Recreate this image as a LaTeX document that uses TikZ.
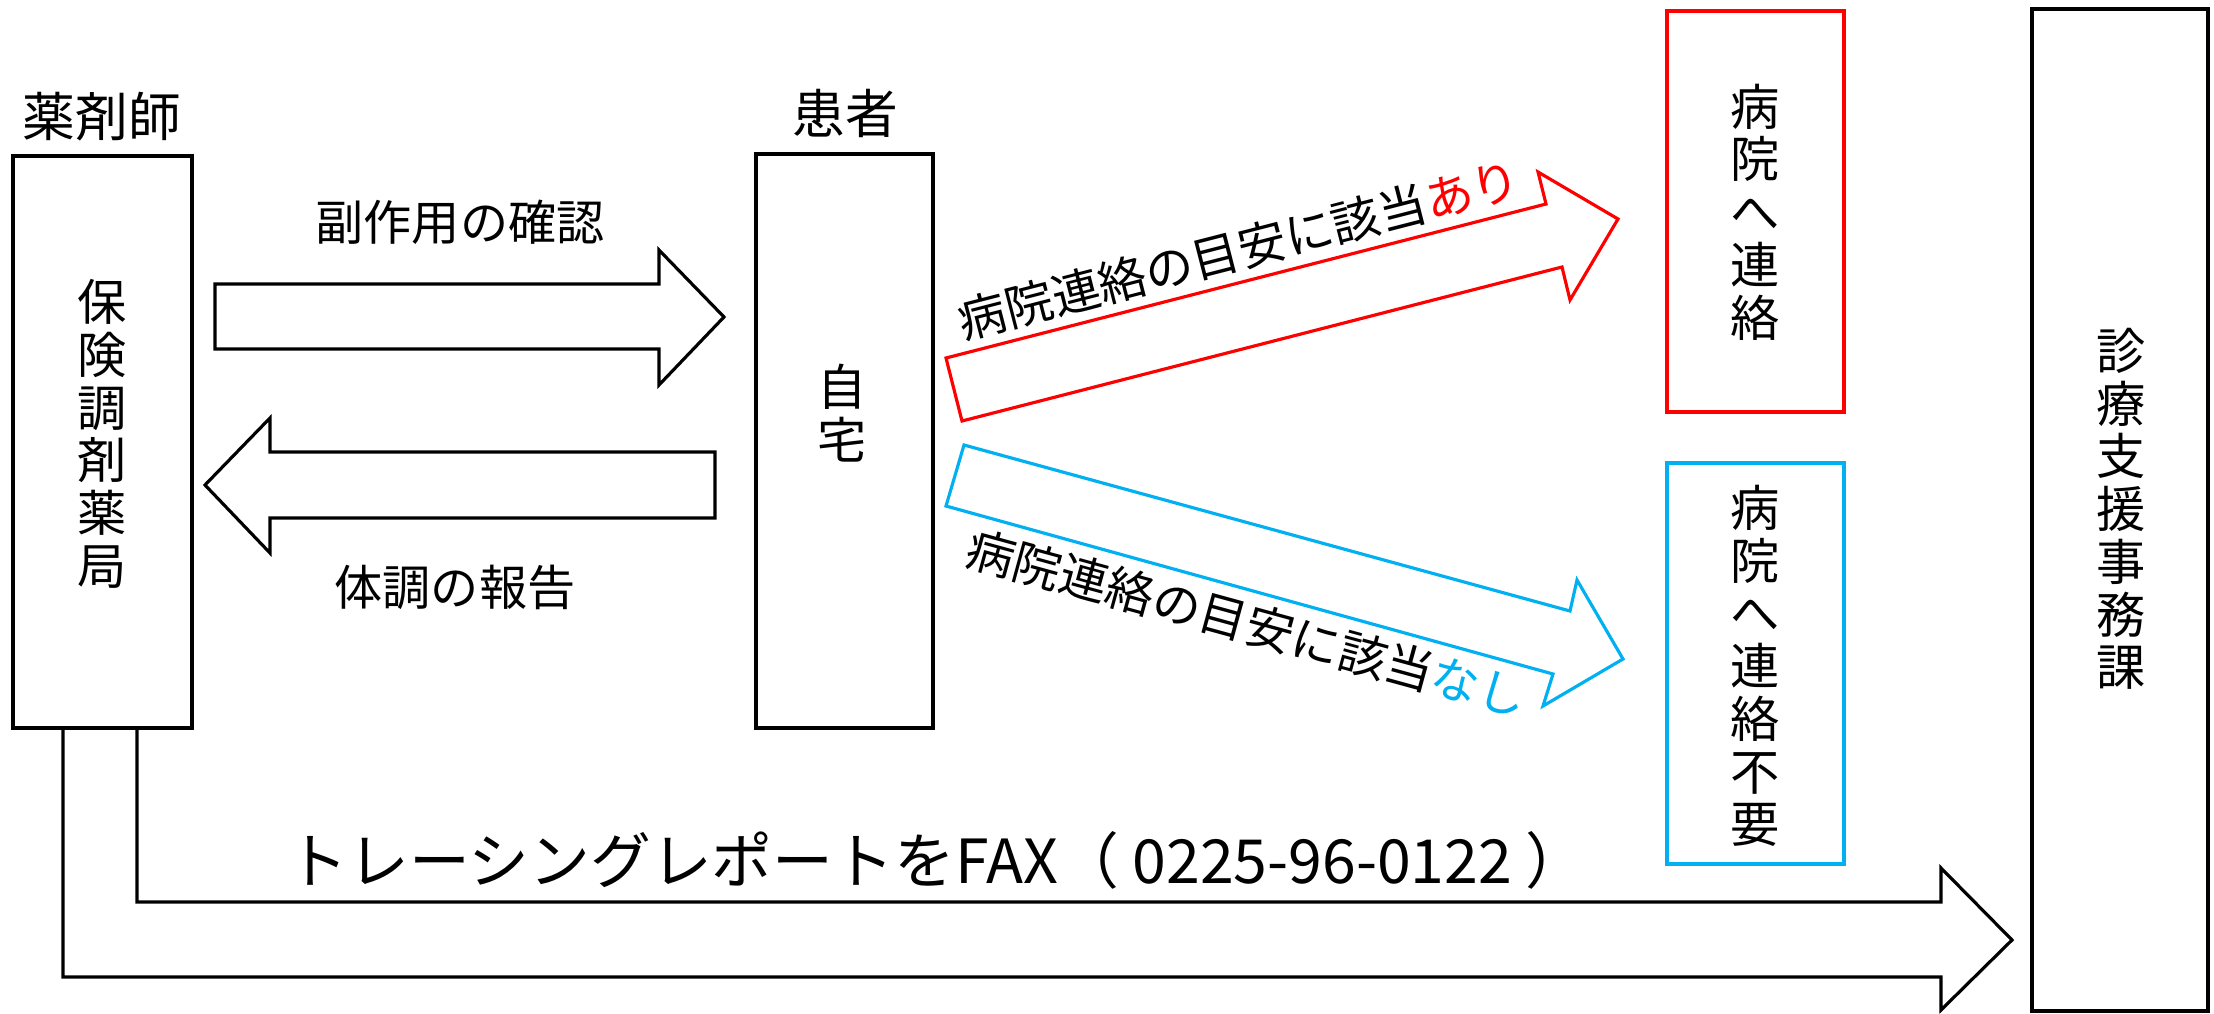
\documentclass[tikz,border=0pt]{standalone}
\usepackage{fontspec}
\setmainfont{Noto Sans CJK JP}
\usepackage{tikz}
\definecolor{linkred}{RGB}{255,0,0}
\definecolor{linkblue}{RGB}{0,176,240}
\tikzset{
	lbl/.style={inner sep=0pt, font=\fontsize{13.7}{16}\selectfont},
	headlbl/.style={inner sep=0pt, font=\fontsize{15}{17}\selectfont},
	faxlbl/.style={inner sep=0pt, font=\fontsize{17.3}{20}\selectfont},
	vtext/.style={align=center, inner sep=0pt, font=\fontsize{14}{15}\selectfont}
}
\begin{document}
\begin{tikzpicture}[line width=0.9pt]
	\useasboundingbox (0,0) rectangle (22.14,-10.13);

	%pharmacy (left)
	\draw (0.13,-1.56) rectangle (1.92,-7.28);
	\node[headlbl] (yakuzaishi) at (1.02,-1.17) {薬剤師};
	\node[vtext] (yakkyoku) at (1.02,-4.34) {保\\険\\調\\剤\\薬\\局};

	%patient (middle)
	\draw (7.56,-1.54) rectangle (9.33,-7.28);
	\node[headlbl] (kanja) at (8.45,-1.13) {患者};
	\node[vtext] (jitaku) at (8.42,-4.13) {自\\宅};

	%check and report
	\draw (2.15,-2.84) -- (6.59,-2.84) -- (6.59,-2.50) -- (7.24,-3.17) -- (6.59,-3.85) -- (6.59,-3.49) -- (2.15,-3.49) -- cycle;
	\node[lbl] (kakunin) at (4.60,-2.22) {副作用の確認};
	\draw (7.15,-4.52) -- (2.70,-4.52) -- (2.70,-4.18) -- (2.05,-4.85) -- (2.70,-5.53) -- (2.70,-5.18) -- (7.15,-5.18) -- cycle;
	\node[lbl] (houkoku) at (4.55,-5.87) {体調の報告};

	%criteria met / not met
	\draw[linkred] (9.46,-3.58) -- (15.46,-2.04) -- (15.38,-1.72) -- (16.18,-2.19) -- (15.70,-3.00) -- (15.62,-2.67) -- (9.62,-4.21) -- cycle;
	\node[lbl, rotate=14.4] (ari) at (12.39,-2.50) {病院連絡の目安に該当\textcolor{linkred}{あり}};
	\draw[linkblue] (9.64,-4.45) -- (15.70,-6.11) -- (15.77,-5.80) -- (16.23,-6.59) -- (15.43,-7.06) -- (15.53,-6.74) -- (9.46,-5.06) -- cycle;
	\node[lbl, rotate=-15.3] (nashi) at (12.47,-6.23) {病院連絡の目安に該当\textcolor{linkblue}{なし}};

	%hospital boxes
	\draw[linkred] (16.67,-0.11) rectangle (18.44,-4.12);
	\node[vtext] (renraku) at (17.55,-2.12) {病\\院\\へ\\連\\絡};
	\draw[linkblue] (16.67,-4.63) rectangle (18.44,-8.64);
	\node[vtext] (fuyou) at (17.55,-6.66) {病\\院\\へ\\連\\絡\\不\\要};

	%office (right)
	\draw (20.32,-0.09) rectangle (22.08,-10.11);
	\node[vtext] (jimuka) at (21.21,-5.09) {診\\療\\支\\援\\事\\務\\課};

	%tracing report by fax
	\draw (1.37,-7.28) -- (1.37,-9.02) -- (19.41,-9.02) -- (19.41,-8.68) -- (20.12,-9.40) -- (19.41,-10.10) -- (19.41,-9.77) -- (0.63,-9.77) -- (0.63,-7.28);
	\node[faxlbl] (fax) at (9.37,-8.60) {トレーシングレポートをFAX（ 0225-96-0122 ）};
\end{tikzpicture}
\end{document}
